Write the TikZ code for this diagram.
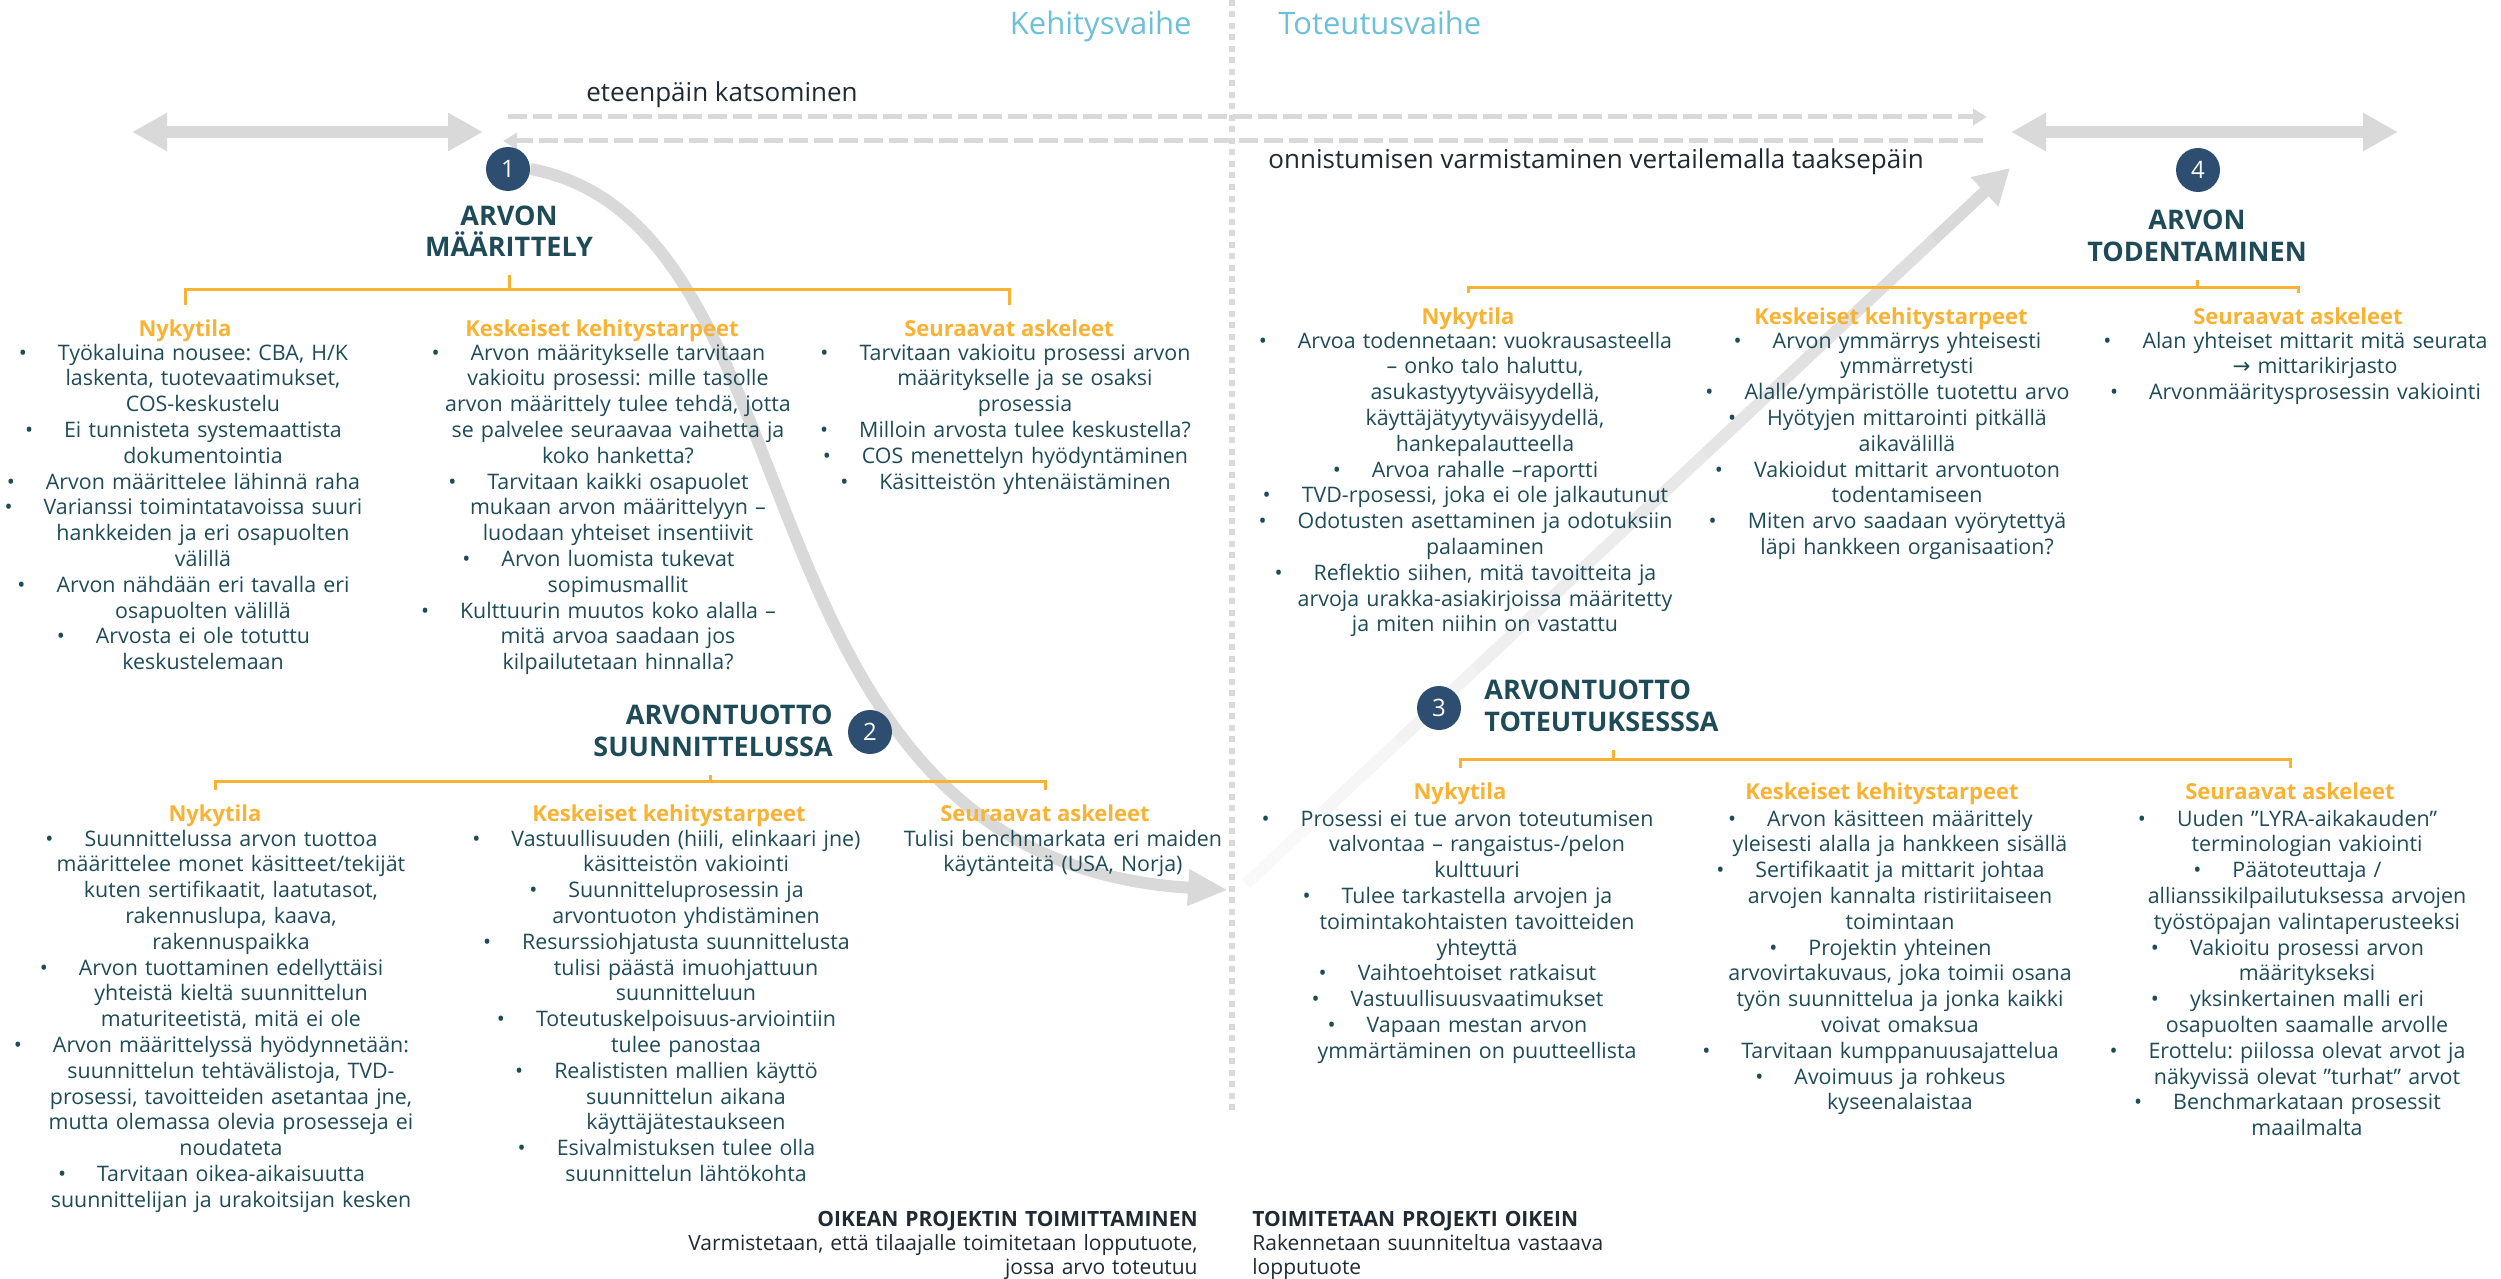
\documentclass[tikz,border=0pt]{standalone}
\usepackage{fontspec}
\setmainfont{Open Sans}
\newfontfamily\arrowfont{DejaVu Sans}
\usepackage{tikz}
\usetikzlibrary{arrows.meta, calc, backgrounds}

\definecolor{tealtxt}{HTML}{1E4B57}
\definecolor{darktxt}{HTML}{1F2A33}
\definecolor{orng}{HTML}{F9B233}
\definecolor{numblue}{HTML}{2E4E71}
\definecolor{phaseblue}{HTML}{6CC0D8}
\definecolor{arrowgray}{HTML}{D9D9D9}

\newcommand{\bul}{\leavevmode\llap{\textbullet\hspace{1.45em}}}

\begin{document}
\begin{tikzpicture}[x=0.5pt, y=-0.5pt,
  body/.style={anchor=base, align=center, text width=215pt, inner sep=0pt, text=tealtxt, font=\fontsize{10.7pt}{12.9pt}\selectfont\frenchspacing},
  head/.style={anchor=base, inner sep=0pt, text=orng, font=\bfseries\fontsize{11pt}{13pt}\selectfont},
  title/.style={anchor=base, align=center, text width=160pt, inner sep=0pt, text=tealtxt, font=\bfseries\fontsize{13.5pt}{16pt}\selectfont},
  num/.style={circle, fill=numblue, text=white, minimum size=22pt, inner sep=0pt, font=\fontsize{12pt}{14pt}\selectfont},
  bracket/.style={draw=orng, line width=1.5pt},
  phase/.style={anchor=base, inner sep=0pt, text=phaseblue, font=\fontsize{15.5pt}{18pt}\selectfont},
  flow/.style={anchor=base west, inner sep=0pt, text=darktxt, font=\fontsize{13pt}{15pt}\selectfont},
  foot/.style={text width=300pt, inner sep=0pt, text=darktxt, font=\fontsize{10.5pt}{12pt}\selectfont\frenchspacing},
  divider/.style={draw=arrowgray, line width=3pt, dash pattern=on 3pt off 2.75pt},
  wide/.style={draw=arrowgray, line width=6pt, {Triangle[length=17.5pt,width=18pt]}-{Triangle[length=17.5pt,width=18pt]}},
  look/.style={draw=arrowgray, line width=2.5pt, dash pattern=on 9.5pt off 3pt, -{Triangle[length=7pt,width=8pt]}},
  sweep/.style={draw=arrowgray, line width=6pt, -{Triangle[length=20pt,width=17pt]}},
  rise/.style={line width=6pt}
]
\useasboundingbox (0,0) rectangle (2501,1279);

% phases
\node[phase, anchor=base east] (dev) at (1192,35) {Kehitysvaihe};
\node[phase, anchor=base west] (impl) at (1278,35) {Toteutusvaihe};
\coordinate (divtop) at (1232,0);
\coordinate (divbot) at (1232,1113);
\draw[divider] (divtop) -- (divbot);

% looking forward / back
\coordinate (wl1) at (132,132);
\coordinate (wl2) at (483,132);
\coordinate (wr1) at (2011,132);
\coordinate (wr2) at (2398,132);
\coordinate (fw1) at (508,117);
\coordinate (fw2) at (1987,117);
\coordinate (bk1) at (1983,141);
\coordinate (bk2) at (503,141);
\draw[wide] (wl1) -- (wl2);
\draw[wide] (wr1) -- (wr2);
\draw[look] (fw1) -- (fw2);
\draw[look] (bk1) -- (bk2);
\node[flow] (fwd) at (586,102) {eteenpäin katsominen};
\node[flow] (back) at (1268,169) {onnistumisen varmistaminen vertailemalla taaksepäin};

% numbered steps
\node[num] (n1) at (508,169) {1};
\node[num] (n2) at (870,732) {2};
\node[num] (n3) at (1439,708) {3};
\node[num] (n4) at (2198,170) {4};
\node[title] (t1) at (509,225) {ARVON\\MÄÄRITTELY};
\node[title, anchor=base east, align=right] (t2) at (833,724) {ARVONTUOTTO\\SUUNNITTELUSSA};
\node[title, anchor=base west, align=left] (t3) at (1484,699) {ARVONTUOTTO\\TOTEUTUKSESSSA};
\node[title] (t4) at (2197,229) {ARVON\\TODENTAMINEN};

% column heads and brackets
\foreach \s/\xa/\xb/\xc/\yh/\yl/\xt in {1/185/602/1009/336/289/509, 2/215/669/1045/821/781/710, 3/1460/1882/2290/799/759/1613, 4/1468/1891/2298/324/287/2197} {
    \node[head] (h\s-a) at (\xa,\yh) {Nykytila};
    \node[head] (h\s-b) at (\xb,\yh) {Keskeiset kehitystarpeet};
    \node[head] (h\s-c) at (\xc,\yh) {Seuraavat askeleet};
    \draw[bracket] ([yshift=15.5pt]h\s-a.base) |- (h\s-c |- 0,\yl) -- ([yshift=15.5pt]h\s-c.base);
    \draw[bracket] ([yshift=-9pt]t\s.south -| \xt,0) -- (\xt,\yl);
}

% 1 arvon maarittely
\node[body] (b1-a) at (203,360) {\bul Työkaluina nousee: CBA, H/K\\laskenta, tuotevaatimukset,\\COS-keskustelu\\\bul Ei tunnisteta systemaattista\\dokumentointia\\\bul Arvon määrittelee lähinnä raha\\\bul Varianssi toimintatavoissa suuri\\hankkeiden ja eri osapuolten\\välillä\\\bul Arvon nähdään eri tavalla eri\\osapuolten välillä\\\bul Arvosta ei ole totuttu\\keskustelemaan};
\node[body] (b1-b) at (618,360) {\bul Arvon määritykselle tarvitaan\\vakioitu prosessi: mille tasolle\\arvon määrittely tulee tehdä, jotta\\se palvelee seuraavaa vaihetta ja\\koko hanketta?\\\bul Tarvitaan kaikki osapuolet\\mukaan arvon määrittelyyn –\\luodaan yhteiset insentiivit\\\bul Arvon luomista tukevat\\sopimusmallit\\\bul Kulttuurin muutos koko alalla –\\mitä arvoa saadaan jos\\kilpailutetaan hinnalla?};
\node[body] (b1-c) at (1025,360) {\bul Tarvitaan vakioitu prosessi arvon\\määritykselle ja se osaksi\\prosessia\\\bul Milloin arvosta tulee keskustella?\\\bul COS menettelyn hyödyntäminen\\\bul Käsitteistön yhtenäistäminen};

% 2 arvontuotto suunnittelussa
\node[body] (b2-a) at (231,846) {\bul Suunnittelussa arvon tuottoa\\määrittelee monet käsitteet/tekijät\\kuten sertifikaatit, laatutasot,\\rakennuslupa, kaava,\\rakennuspaikka\\\bul Arvon tuottaminen edellyttäisi\\yhteistä kieltä suunnittelun\\maturiteetistä, mitä ei ole\\\bul Arvon määrittelyssä hyödynnetään:\\suunnittelun tehtävälistoja, TVD-\\prosessi, tavoitteiden asetantaa jne,\\mutta olemassa olevia prosesseja ei\\noudateta\\\bul Tarvitaan oikea-aikaisuutta\\suunnittelijan ja urakoitsijan kesken};
\node[body] (b2-b) at (686,846) {\bul Vastuullisuuden (hiili, elinkaari jne)\\käsitteistön vakiointi\\\bul Suunnitteluprosessin ja\\arvontuoton yhdistäminen\\\bul Resurssiohjatusta suunnittelusta\\tulisi päästä imuohjattuun\\suunnitteluun\\\bul Toteutuskelpoisuus-arviointiin\\tulee panostaa\\\bul Realististen mallien käyttö\\suunnittelun aikana\\käyttäjätestaukseen\\\bul Esivalmistuksen tulee olla\\suunnittelun lähtökohta};
\node[body] (b2-c) at (1063,846) {Tulisi benchmarkata eri maiden\\käytänteitä (USA, Norja)};

% 3 arvontuotto toteutuksessa
\node[body] (b3-a) at (1477,826) {\bul Prosessi ei tue arvon toteutumisen\\valvontaa – rangaistus-/pelon\\kulttuuri\\\bul Tulee tarkastella arvojen ja\\toimintakohtaisten tavoitteiden\\yhteyttä\\\bul Vaihtoehtoiset ratkaisut\\\bul Vastuullisuusvaatimukset\\\bul Vapaan mestan arvon\\ymmärtäminen on puutteellista};
\node[body] (b3-b) at (1900,826) {\bul Arvon käsitteen määrittely\\yleisesti alalla ja hankkeen sisällä\\\bul Sertifikaatit ja mittarit johtaa\\arvojen kannalta ristiriitaiseen\\toimintaan\\\bul Projektin yhteinen\\arvovirtakuvaus, joka toimii osana\\työn suunnittelua ja jonka kaikki\\voivat omaksua\\\bul Tarvitaan kumppanuusajattelua\\\bul Avoimuus ja rohkeus\\kyseenalaistaa};
\node[body] (b3-c) at (2307,826) {\bul Uuden ”LYRA-aikakauden”\\terminologian vakiointi\\\bul Päätoteuttaja /\\allianssikilpailutuksessa arvojen\\työstöpajan valintaperusteeksi\\\bul Vakioitu prosessi arvon\\määritykseksi\\\bul yksinkertainen malli eri\\osapuolten saamalle arvolle\\\bul Erottelu: piilossa olevat arvot ja\\näkyvissä olevat ”turhat” arvot\\\bul Benchmarkataan prosessit\\maailmalta};

% 4 arvon todentaminen
\node[body] (b4-a) at (1485,348) {\bul Arvoa todennetaan: vuokrausasteella\\– onko talo haluttu,\\asukastyytyväisyydellä,\\käyttäjätyytyväisyydellä,\\hankepalautteella\\\bul Arvoa rahalle –raportti\\\bul TVD-rposessi, joka ei ole jalkautunut\\\bul Odotusten asettaminen ja odotuksiin\\palaaminen\\\bul Reflektio siihen, mitä tavoitteita ja\\arvoja urakka-asiakirjoissa määritetty\\ja miten niihin on vastattu};
\node[body] (b4-b) at (1907,348) {\bul Arvon ymmärrys yhteisesti\\ymmärretysti\\\bul Alalle/ympäristölle tuotettu arvo\\\bul Hyötyjen mittarointi pitkällä\\aikavälillä\\\bul Vakioidut mittarit arvontuoton\\todentamiseen\\\bul Miten arvo saadaan vyörytettyä\\läpi hankkeen organisaation?};
\node[body] (b4-c) at (2315,348) {\bul Alan yhteiset mittarit mitä seurata\\{\arrowfont →} mittarikirjasto\\\bul Arvonmääritysprosessin vakiointi};

% footer
\node[foot, anchor=base east, align=right] (oikea) at (1198,1226) {{\bfseries OIKEAN PROJEKTIN TOIMITTAMINEN}\\Varmistetaan, että tilaajalle toimitetaan lopputuote,\\jossa arvo toteutuu};
\node[foot, anchor=base west, align=left] (oikein) at (1252,1226) {{\bfseries TOIMITETAAN PROJEKTI OIKEIN}\\Rakennetaan suunniteltua vastaava\\lopputuote};

% big gray arrows
\coordinate (arcend) at (1228,890);
\coordinate (rise1) at (1246,884);
\coordinate (rise2) at (2010,168);
\begin{scope}[on background layer]
\draw[sweep] (n1.east) .. controls (830,225) and (720,860) .. (arcend);
\foreach \i in {0,...,8} {
    \pgfmathsetmacro\fa{\i/10}
    \pgfmathsetmacro\fb{(\i+1)/10}
    \pgfmathtruncatemacro\tone{15+9*\i}
    \draw[rise, draw=arrowgray!\tone] ($(rise1)!\fa!(rise2)$) -- ($(rise1)!\fb!(rise2)$);
}
\draw[rise, draw=arrowgray, -{Triangle[length=17.5pt,width=19pt]}] ($(rise1)!0.9!(rise2)$) -- (rise2);
\end{scope}
\end{tikzpicture}
\end{document}
